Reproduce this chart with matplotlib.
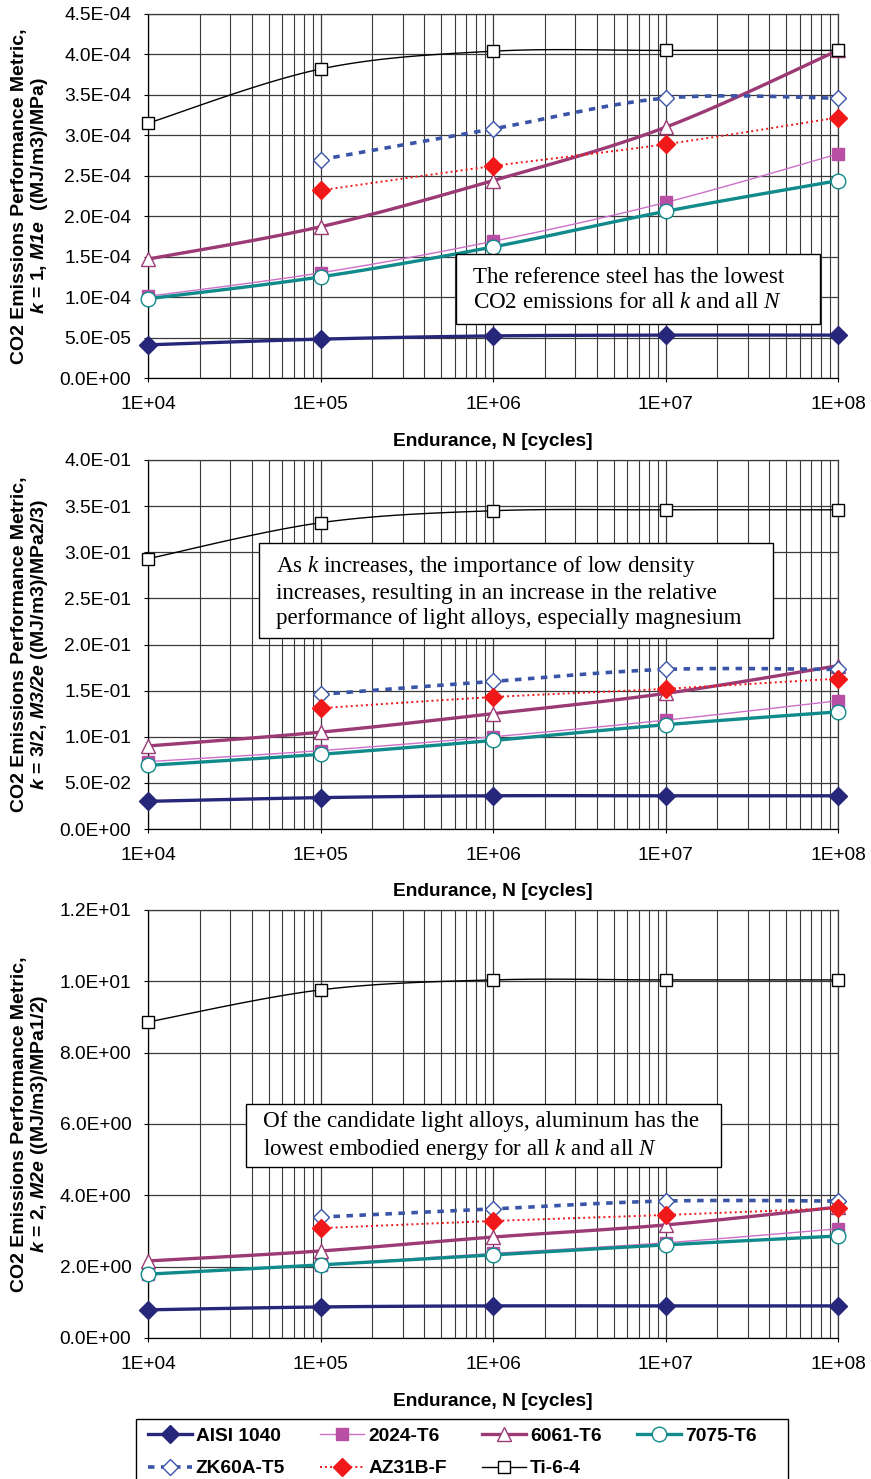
import numpy as np
import matplotlib
matplotlib.use("Agg")
import matplotlib.pyplot as plt
from matplotlib.lines import Line2D
from matplotlib.ticker import FixedLocator, FuncFormatter, LogLocator, NullFormatter

plt.rcParams["font.family"] = ["Liberation Sans", "DejaVu Sans"]
plt.rcParams["mathtext.fontset"] = "custom"
plt.rcParams["mathtext.it"] = "Liberation Serif:italic"
plt.rcParams["mathtext.rm"] = "Liberation Serif"
plt.rcParams["mathtext.bfit"] = "Liberation Sans:bold:italic"

# endurance (cycles)
N = [1e4, 1e5, 1e6, 1e7, 1e8]
N_mg = [1e5, 1e6, 1e7, 1e8]

# k = 1
k1_aisi = [0.41e-4, 0.48e-4, 0.52e-4, 0.53e-4, 0.53e-4]
k1_2024 = [1.01e-4, 1.30e-4, 1.69e-4, 2.17e-4, 2.77e-4]
k1_6061 = [1.47e-4, 1.87e-4, 2.44e-4, 3.10e-4, 4.05e-4]
k1_7075 = [0.98e-4, 1.25e-4, 1.62e-4, 2.06e-4, 2.44e-4]
k1_zk60 = [2.70e-4, 3.08e-4, 3.46e-4, 3.46e-4]
k1_az31 = [2.32e-4, 2.62e-4, 2.89e-4, 3.22e-4]
k1_ti = [3.15e-4, 3.82e-4, 4.04e-4, 4.05e-4, 4.05e-4]

# k = 3/2
k15_aisi = [0.030, 0.034, 0.036, 0.036, 0.036]
k15_2024 = [0.073, 0.085, 0.100, 0.118, 0.139]
k15_6061 = [0.090, 0.105, 0.125, 0.147, 0.177]
k15_7075 = [0.069, 0.081, 0.096, 0.113, 0.127]
k15_zk60 = [0.146, 0.160, 0.173, 0.173]
k15_az31 = [0.131, 0.143, 0.152, 0.163]
k15_ti = [0.293, 0.332, 0.345, 0.346, 0.346]

# k = 2
k2_aisi = [0.79, 0.87, 0.90, 0.90, 0.90]
k2_2024 = [1.80, 2.06, 2.37, 2.67, 3.06]
k2_6061 = [2.16, 2.44, 2.83, 3.17, 3.67]
k2_7075 = [1.79, 2.05, 2.33, 2.61, 2.86]
k2_zk60 = [3.39, 3.62, 3.84, 3.84]
k2_az31 = [3.08, 3.28, 3.45, 3.64]
k2_ti = [8.86, 9.76, 10.04, 10.04, 10.04]

names = ["AISI 1040", "2024-T6", "6061-T6", "7075-T6", "ZK60A-T5", "AZ31B-F", "Ti-6-4"]

styles = {
    "AISI 1040": dict(color="#26267A", lw=2.4, ls="-", marker="D", ms=9, mfc="#26267A", mec="#26267A"),
    "2024-T6": dict(color="#CC6FC8", lw=1.0, ls="-", marker="s", ms=8.5, mfc="#B94EA5", mec="#B94EA5"),
    "6061-T6": dict(color="#9B3A74", lw=2.4, ls="-", marker="^", ms=10.5, mfc="white", mec="#9B3A74"),
    "7075-T6": dict(color="#108A8A", lw=2.4, ls="-", marker="o", ms=10.5, mfc="white", mec="#108A8A"),
    "ZK60A-T5": dict(color="#3A55A8", lw=2.6, ls=(0, (1.8, 1.8)), marker="D", ms=8.5, mfc="white", mec="#3A55A8"),
    "AZ31B-F": dict(color="#F01818", lw=1.4, ls=(0, (1, 1.6)), marker="D", ms=9, mfc="#F01818", mec="#F01818"),
    "Ti-6-4": dict(color="black", lw=1.0, ls="-", marker="s", ms=9, mfc="white", mec="black"),
}

FS = 13.8


def smooth(xs, ys, n=30):
    # Catmull-Rom through the points in log-x space (Excel style smoothed line)
    lx = np.log10(np.asarray(xs, float))
    y = np.asarray(ys, float)
    P = np.column_stack([lx, y])
    P = np.vstack([P[0], P, P[-1]])
    out = []
    t = np.linspace(0, 1, n)[:, None]
    for i in range(1, len(P) - 2):
        p0, p1, p2, p3 = P[i - 1], P[i], P[i + 1], P[i + 2]
        seg = 0.5 * ((2 * p1) + (-p0 + p2) * t + (2 * p0 - 5 * p1 + 4 * p2 - p3) * t ** 2
                     + (-p0 + 3 * p1 - 3 * p2 + p3) * t ** 3)
        out.append(seg)
    out = np.vstack(out)
    return 10 ** out[:, 0], out[:, 1]


def draw(ax, series):
    for name, xs, ys in series:
        st = styles[name]
        sx, sy = smooth(xs, ys)
        ax.plot(sx, sy, color=st["color"], lw=st["lw"], ls=st["ls"], zorder=3)
        ax.plot(xs, ys, ls="none", marker=st["marker"], ms=st["ms"], mfc=st["mfc"],
                mec=st["mec"], mew=1.0, zorder=4, clip_on=False)


fig = plt.figure(figsize=(8.71, 14.79), dpi=100)
W, H = 871, 1479


def make_ax(top, bottom):
    return fig.add_axes([148 / W, 1 - bottom / H, (838 - 148) / W, (bottom - top) / H])


panels = [
    (14, 378, 4.5e-4, 5e-5, "$\\mathbfit{k}$ = 1, $\\mathbfit{M1e}$  ((MJ/m3)/MPa)",
     [("AISI 1040", N, k1_aisi), ("2024-T6", N, k1_2024), ("6061-T6", N, k1_6061),
      ("7075-T6", N, k1_7075), ("ZK60A-T5", N_mg, k1_zk60), ("AZ31B-F", N_mg, k1_az31),
      ("Ti-6-4", N, k1_ti)],
     (456, 254, 820, 324),
     "The reference steel has the lowest\nCO2 emissions for all $\\mathit{k}$ and all $\\mathit{N}$"),
    (460, 829, 0.4, 0.05, "$\\mathbfit{k}$ = 3/2, $\\mathbfit{M3/2e}$ ((MJ/m3)/MPa2/3)",
     [("AISI 1040", N, k15_aisi), ("2024-T6", N, k15_2024), ("6061-T6", N, k15_6061),
      ("7075-T6", N, k15_7075), ("ZK60A-T5", N_mg, k15_zk60), ("AZ31B-F", N_mg, k15_az31),
      ("Ti-6-4", N, k15_ti)],
     (259, 543, 773, 638),
     "As $\\mathit{k}$ increases, the importance of low density\nincreases, resulting in an increase in the relative\nperformance of light alloys, especially magnesium"),
    (910, 1338, 12.0, 2.0, "$\\mathbfit{k}$ = 2, $\\mathbfit{M2e}$ ((MJ/m3)/MPa1/2)",
     [("AISI 1040", N, k2_aisi), ("2024-T6", N, k2_2024), ("6061-T6", N, k2_6061),
      ("7075-T6", N, k2_7075), ("ZK60A-T5", N_mg, k2_zk60), ("AZ31B-F", N_mg, k2_az31),
      ("Ti-6-4", N, k2_ti)],
     (246, 1104, 721, 1167),
     "Of the candidate light alloys, aluminum has the\nlowest embodied energy for all $\\mathit{k}$ and all $\\mathit{N}$"),
]

for top, bottom, ymax, ystep, ylab, series, box, note in panels:
    ax = make_ax(top, bottom)
    ax.set_xscale("log")
    ax.set_xlim(1e4, 1e8)
    ax.set_ylim(0, ymax)
    ax.yaxis.set_major_locator(FixedLocator(np.arange(0, ymax + ystep / 2, ystep)))
    ax.yaxis.set_major_formatter(FuncFormatter(lambda v, p: f"{v:.1E}"))
    ax.xaxis.set_major_locator(FixedLocator(N))
    ax.xaxis.set_major_formatter(FuncFormatter(lambda v, p: f"{v:.0E}"))
    ax.xaxis.set_minor_locator(LogLocator(base=10, subs=np.arange(2, 10)))
    ax.xaxis.set_minor_formatter(NullFormatter())
    ax.grid(True, which="major", axis="both", color="#3a3a3a", lw=0.9, zorder=0)
    ax.grid(True, which="minor", axis="x", color="#3a3a3a", lw=0.8, zorder=0)
    ax.set_axisbelow(True)
    ax.tick_params(axis="both", which="major", labelsize=FS, length=3, direction="out")
    ax.tick_params(axis="y", which="major", pad=9)
    ax.tick_params(axis="x", which="minor", length=0)
    ax.tick_params(axis="x", which="major", pad=10)
    for s in ax.spines.values():
        s.set_color("#3a3a3a")
        s.set_linewidth(0.9)
    ax.spines["left"].set_color("black")
    ax.spines["bottom"].set_color("black")
    ax.set_xlabel("Endurance, N [cycles]", fontsize=FS, fontweight="bold", labelpad=14)
    ax.set_ylabel("CO2 Emissions Performance Metric,\n" + ylab, fontsize=14,
                  fontweight="bold", linespacing=1.1)
    ax.yaxis.set_label_coords(-0.142, 0.5)
    draw(ax, series)
    # annotation box
    bx0, by0, bx1, by1 = box
    fig.patches.append(plt.Rectangle((bx0 / W, 1 - by1 / H), (bx1 - bx0) / W, (by1 - by0) / H,
                                     transform=fig.transFigure, facecolor="white",
                                     edgecolor="black", lw=1.0, zorder=5))
    fig.text((bx0 + 17) / W, 1 - ((by0 + by1) / 2 + 1) / H, note, ha="left", va="center",
             fontsize=16.6, family="Liberation Serif", linespacing=1.23, zorder=6)

handles = []
for name in names:
    st = styles[name]
    handles.append(Line2D([], [], color=st["color"], lw=st["lw"], ls=st["ls"],
                          marker=st["marker"], ms=st["ms"], mfc=st["mfc"], mec=st["mec"]))
order = [0, 4, 1, 5, 2, 6, 3]

# legend frame (runs off the bottom edge, as in the source)
fig.patches.append(plt.Rectangle((136 / W, -0.02), (788 - 136) / W, 0.02 + 1 - 1419 / H,
                                 transform=fig.transFigure, facecolor="white",
                                 edgecolor="black", lw=1.0, zorder=1))
leg = fig.legend([handles[i] for i in order], [names[i] for i in order], ncol=4,
                 loc="upper left", bbox_to_anchor=(141 / W, 1 - 1421 / H),
                 frameon=False, prop={"weight": "bold", "size": FS}, handlelength=2.3,
                 handletextpad=0.2, columnspacing=1.85, borderpad=0.35, labelspacing=0.78,
                 borderaxespad=0)

fig.savefig("out.png", dpi=100)
